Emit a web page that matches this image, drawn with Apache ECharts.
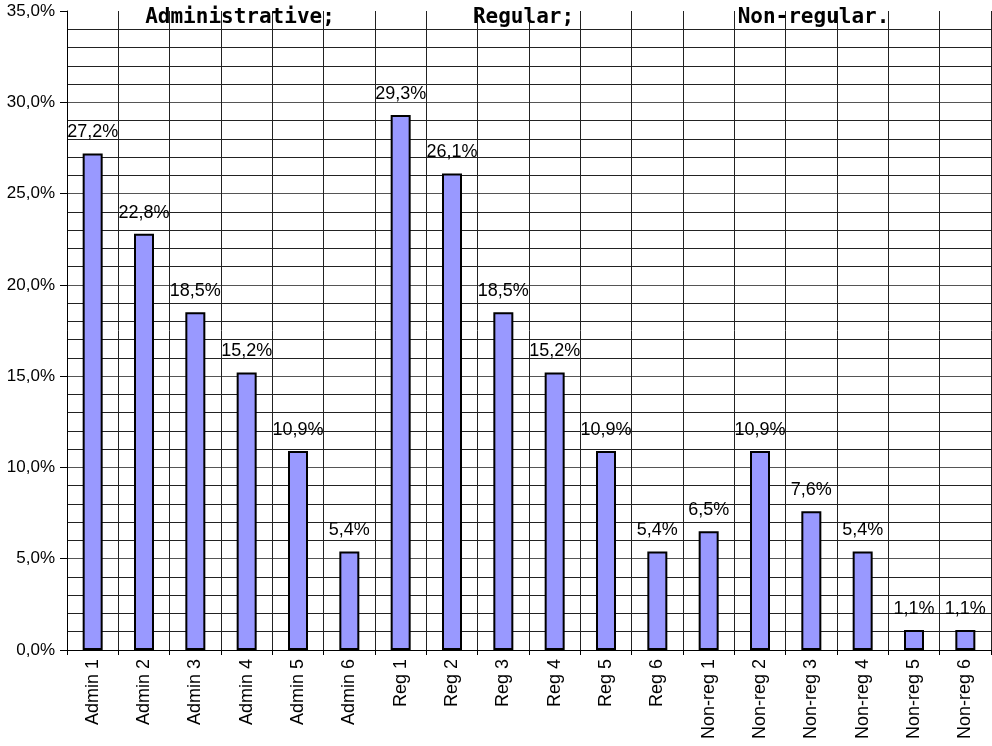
<!DOCTYPE html>
<html>
<head>
<meta charset="utf-8">
<script src="https://cdn.jsdelivr.net/npm/echarts@6/dist/echarts.min.js"></script>
<style>html,body{margin:0;padding:0;background:#fff}#c{width:992px;height:746px}</style>
</head>
<body>
<div id="c"></div>
<script>
var categories = ['Admin 1','Admin 2','Admin 3','Admin 4','Admin 5','Admin 6',
  'Reg 1','Reg 2','Reg 3','Reg 4','Reg 5','Reg 6',
  'Non-reg 1','Non-reg 2','Non-reg 3','Non-reg 4','Non-reg 5','Non-reg 6'];
var values = [27.2, 22.8, 18.5, 15.2, 10.9, 5.4,
  29.3, 26.1, 18.5, 15.2, 10.9, 5.4,
  6.5, 10.9, 7.6, 5.4, 1.1, 1.1];
var groupTitles = ['Administrative;', 'Regular;', 'Non-regular.'];
var yMin = 0, yMax = 35, yStep = 5;

function pct(v){ return v.toFixed(1).replace('.', ',') + '%'; }

var chart = echarts.init(document.getElementById('c'), null, {renderer:'canvas'});
var titleX = [240, 523.5, 813.5];
chart.setOption({
  animation: false,
  backgroundColor: '#fff',
  grid: {left: 67, right: 1, top: 11, bottom: 96, containLabel: false},
  xAxis: {
    type: 'category',
    data: categories,
    boundaryGap: true,
    axisLine: {show: true, lineStyle: {color: '#000', width: 1}},
    axisTick: {show: true, length: 5, interval: 0, lineStyle: {color: '#000'}},
    axisLabel: {interval: 0, rotate: 90, margin: 9, fontSize: 18, fontFamily: 'Liberation Sans', color: '#000'},
    splitLine: {show: true, interval: 0, lineStyle: {color: '#222', width: 1}}
  },
  yAxis: {
    type: 'value',
    min: yMin, max: yMax, interval: yStep,
    axisLine: {show: true, lineStyle: {color: '#000', width: 1}},
    axisTick: {show: true, length: 7, lineStyle: {color: '#000'}},
    axisLabel: {margin: 12, fontSize: 17, fontFamily: 'Liberation Sans', color: '#000', formatter: function(v){ return pct(v); }},
    splitLine: {show: true, showMaxLine: false, lineStyle: {color: '#555', width: 1}},
    minorTick: {show: false, splitNumber: 5},
    minorSplitLine: {show: true, lineStyle: {color: '#222', width: 1}}
  },
  graphic: groupTitles.map(function(t, i){
    return {type: 'text', x: titleX[i], y: 18, z: 100,
      style: {text: t, textAlign: 'center', textVerticalAlign: 'middle',
        font: 'bold 21px "DejaVu Sans Mono"', fill: '#000'}};
  }),
  series: [{
    type: 'bar',
    data: values,
    barWidth: 20,
    itemStyle: {color: '#9999FF', borderColor: '#000', borderWidth: 2},
    label: {show: true, position: 'top', distance: 12, fontSize: 18, fontFamily: 'Liberation Sans', color: '#000',
      formatter: function(p){ return pct(p.value); }}
  }]
});
</script>
</body>
</html>
